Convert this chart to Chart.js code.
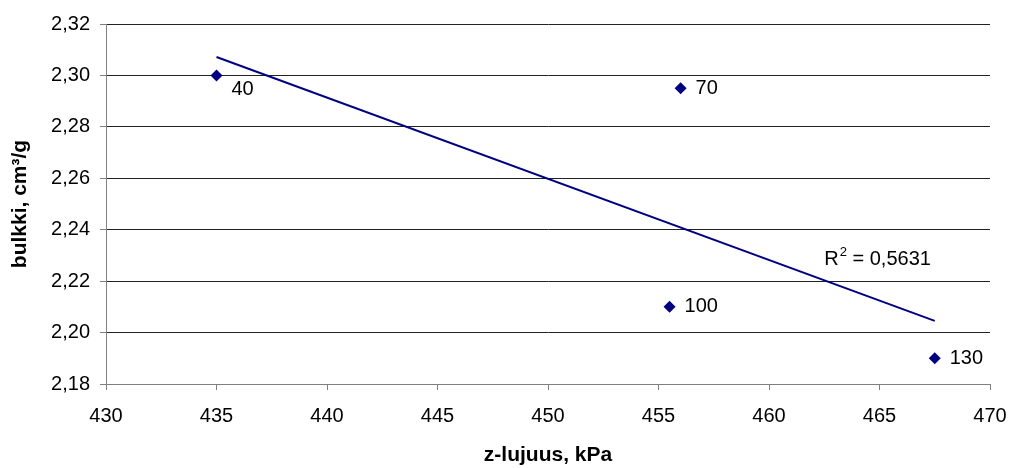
<!DOCTYPE html>
<html>
<head>
<meta charset="utf-8">
<script src="https://cdn.jsdelivr.net/npm/chart.js@4.4.1/dist/chart.umd.min.js"></script>
<style>
  html, body { margin: 0; padding: 0; background: #fff; }
  #wrap { width: 1011px; height: 468px; }
</style>
</head>
<body>
<div id="wrap"><canvas id="chart"></canvas></div>
<script>
// z-lujuus (kPa) vs. bulkki (cm3/g), labelled by run
const lujuus = [435, 456, 455.5, 467.5];
const bulkki = [2.30, 2.295, 2.21, 2.19];
const pointLabels = ["40", "70", "100", "130"];
const xTicks = [430, 435, 440, 445, 450, 455, 460, 465, 470];
const yTicks = [2.18, 2.20, 2.22, 2.24, 2.26, 2.28, 2.30, 2.32];

const navy = "#000080";
const font = "'Liberation Sans', Arial, sans-serif";

// least squares fit
const n = lujuus.length;
const mx = lujuus.reduce((a, b) => a + b, 0) / n;
const my = bulkki.reduce((a, b) => a + b, 0) / n;
let sxy = 0, sxx = 0, syy = 0;
for (let i = 0; i < n; i++) {
  sxy += (lujuus[i] - mx) * (bulkki[i] - my);
  sxx += (lujuus[i] - mx) ** 2;
  syy += (bulkki[i] - my) ** 2;
}
const slope = sxy / sxx;
const icpt = my - slope * mx;
const r2 = (sxy * sxy) / (sxx * syy);
const xLo = Math.min(...lujuus), xHi = Math.max(...lujuus);

const labelPlugin = {
  id: "labels",
  afterDatasetsDraw(chart) {
    const ctx = chart.ctx;
    const xs = chart.scales.x, ys = chart.scales.y;
    ctx.save();
    ctx.fillStyle = "#000";
    ctx.font = "20px " + font;
    ctx.textBaseline = "middle";
    ctx.textAlign = "left";
    const meta = chart.getDatasetMeta(0);
    meta.data.forEach((pt, i) => {
      const dy = i === 0 ? 14 : 0;
      ctx.fillText(pointLabels[i], pt.x + 15, pt.y + dy);
    });
    // R² next to the trendline
    const rx = xs.getPixelForValue(462.5);
    const ry = ys.getPixelForValue(2.2263);
    ctx.textBaseline = "alphabetic";
    ctx.fillText("R", rx, ry);
    let w = ctx.measureText("R").width;
    ctx.font = "13px " + font;
    ctx.fillText("2", rx + w + 1, ry - 9);
    w += ctx.measureText("2").width + 1;
    ctx.font = "20px " + font;
    ctx.fillText(" = " + r2.toFixed(4).replace(".", ","), rx + w, ry);
    ctx.restore();
  }
};

new Chart(document.getElementById("chart"), {
  type: "scatter",
  data: {
    datasets: [
      {
        data: lujuus.map((x, i) => ({ x: x, y: bulkki[i] })),
        pointStyle: "rectRot",
        pointRadius: 6,
        backgroundColor: navy,
        borderColor: navy,
        borderWidth: 0,
        order: 1
      },
      {
        type: "line",
        data: [
          { x: xLo, y: icpt + slope * xLo },
          { x: xHi, y: icpt + slope * xHi }
        ],
        borderColor: navy,
        borderWidth: 2,
        pointRadius: 0,
        fill: false,
        order: 2
      }
    ]
  },
  options: {
    responsive: true,
    maintainAspectRatio: false,
    animation: false,
    layout: { padding: { top: 24, right: 21, left: 0, bottom: 0 } },
    plugins: {
      legend: { display: false },
      tooltip: { enabled: false }
    },
    scales: {
      x: {
        type: "linear",
        min: 430,
        max: 470,
        afterBuildTicks: s => { s.ticks = xTicks.map(v => ({ value: v })); },
        afterFit: s => {
          s.height = 84;
          s.paddingLeft = 0;
          s.paddingRight = 0;
        },
        ticks: {
          color: "#000",
          font: { family: font, size: 20 },
          padding: 14,
          maxRotation: 0
        },
        grid: {
          drawOnChartArea: false,
          tickLength: 6,
          tickColor: "#808080"
        },
        border: { color: "#808080" },
        title: {
          display: true,
          text: "z-lujuus, kPa",
          color: "#000",
          font: { family: font, size: 21, weight: "bold" },
          padding: { top: 0, bottom: 0 }
        }
      },
      y: {
        min: 2.18,
        max: 2.32,
        afterBuildTicks: s => { s.ticks = yTicks.map(v => ({ value: v })); },
        afterFit: s => { s.width = 106; },
        ticks: {
          color: "#000",
          font: { family: font, size: 20 },
          padding: 10,
          callback: v => v.toFixed(2).replace(".", ",")
        },
        grid: {
          color: "#222",
          tickLength: 6,
          tickColor: "#808080"
        },
        border: { color: "#808080" },
        title: {
          display: true,
          text: "bulkki, cm³/g",
          color: "#000",
          font: { family: font, size: 21, weight: "bold" },
          padding: { top: 8, bottom: 0 }
        }
      }
    }
  },
  plugins: [labelPlugin]
});
</script>
</body>
</html>
